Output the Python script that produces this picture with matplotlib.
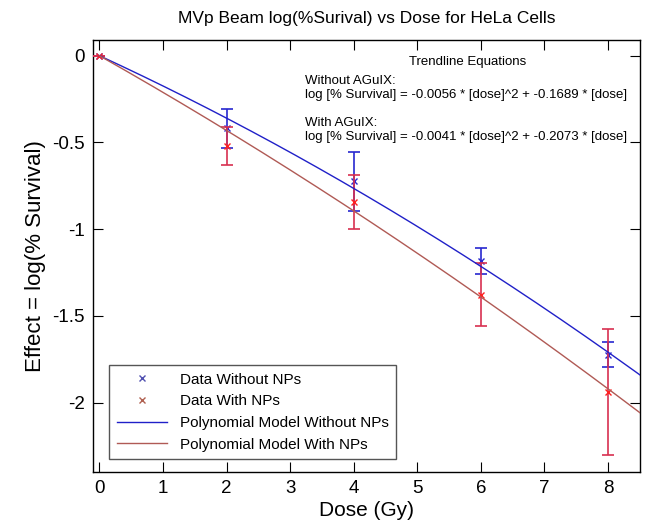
import numpy as np
import matplotlib.pyplot as plt
from matplotlib.lines import Line2D

# === Data ===
Dose = [0, 2, 4, 6, 8]
EffectWithout = [0.0, -0.418, -0.725, -1.185, -1.724]
ErrWithout = [0.0, 0.112, 0.168, 0.074, 0.071]
EffectWith = [0.0, -0.52, -0.845, -1.379, -1.94]
ErrWith = [0.0, 0.11, 0.155, 0.182, 0.362]

# Trendline coefficients [dose^2, dose, const] as printed on the chart
CoefWithout = [-0.0056, -0.1689, 0.0]
CoefWith = [-0.0041, -0.2073, 0.0]

EquationLines = [
    "Without AGuIX:",
    "log [% Survival] = -0.0056 * [dose]^2 + -0.1689 * [dose]",
    "",
    "With AGuIX:",
    "log [% Survival] = -0.0041 * [dose]^2 + -0.2073 * [dose]",
]

plt.rcParams['font.family'] = ['Liberation Sans', 'DejaVu Sans']

fig = plt.figure(figsize=(6.47, 5.27), dpi=100)
ax = fig.add_axes([0.1437, 0.1044, 0.8453, 0.8196])

XMin, XMax = -0.1, 8.5
ax.set_xlim(XMin, XMax)
ax.set_ylim(-2.4, 0.09)

# === Error bars ===
ax.errorbar(Dose, EffectWithout, yerr=ErrWithout, fmt='x', color='#2828d0',
            ecolor='#2828d0', markersize=5, capsize=4, elinewidth=1.2, capthick=1.2, zorder=3)
ax.errorbar(Dose, EffectWith, yerr=ErrWith, fmt='x', color='#ff2020',
            ecolor='#d83050', markersize=5, capsize=4, elinewidth=1.2, capthick=1.2, zorder=4)

# === Polynomial models ===
XFit = np.linspace(0, XMax, 200)
ax.plot(XFit, np.polyval(CoefWithout, XFit), color='#2020c8', linewidth=1.0, zorder=5)
ax.plot(XFit, np.polyval(CoefWith, XFit), color='#b05a55', linewidth=1.0, zorder=5)

# === Axes styling (MATLAB-like box) ===
ax.set_xticks(np.arange(0, 9, 1))
ax.set_yticks([0, -0.5, -1, -1.5, -2])
ax.set_yticklabels(['0', '-0.5', '-1', '-1.5', '-2'])
ax.tick_params(direction='in', top=True, right=True, labelsize=13.5, length=7, pad=6)
for Spine in ax.spines.values():
    Spine.set_linewidth(1.0)

ax.set_xlabel("Dose (Gy)", fontsize=15, labelpad=3)
ax.set_ylabel("Effect = log(% Survival)", fontsize=16, labelpad=4)
ax.set_title("MVp Beam log(%Surival) vs Dose for HeLa Cells", fontsize=12.5, pad=12)

# === Trendline equation text ===
ax.text(0.685, 0.962, "Trendline Equations", transform=ax.transAxes,
        fontsize=9.5, ha='center', va='top')
ax.text(0.387, 0.918, "\n".join(EquationLines), transform=ax.transAxes,
        fontsize=9.5, ha='left', va='top', linespacing=1.2)

# === Legend ===
Handles = [
    Line2D([], [], linestyle='none', marker='x', color='#5050b0', markersize=5),
    Line2D([], [], linestyle='none', marker='x', color='#b06050', markersize=5),
    Line2D([], [], color='#2020c8', linewidth=1.0),
    Line2D([], [], color='#b05a55', linewidth=1.0),
]
Labels = ["Data Without NPs", "Data With NPs",
          "Polynomial Model Without NPs", "Polynomial Model With NPs"]
Leg = ax.legend(Handles, Labels, loc='lower left', bbox_to_anchor=(0.016, 0.012),
                fontsize=11, fancybox=False, framealpha=1, edgecolor='#555555',
                handlelength=3.3, borderpad=0.5, labelspacing=0.5)
Leg.get_frame().set_linewidth(1.0)

fig.savefig("out.png", dpi=100)
